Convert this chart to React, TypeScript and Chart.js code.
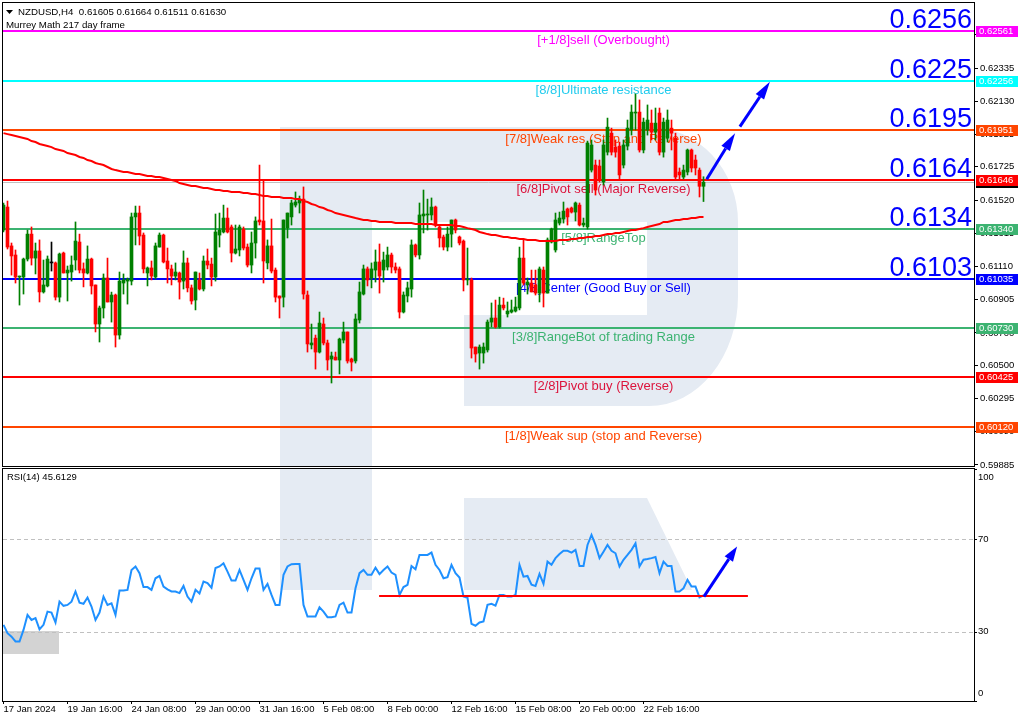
import React, { useEffect, useRef } from 'react';
import { Chart, registerables } from 'chart.js';

Chart.register(...registerables);

const FONT = '"Liberation Sans", Arial, sans-serif';

const symbolHeader = 'NZDUSD,H4  0.61605 0.61664 0.61511 0.61630';
const indicatorHeader = 'Murrey Math 217 day frame';
const rsiHeader = 'RSI(14) 45.6129';

const timeLabels = ['17 Jan 2024', '19 Jan 16:00', '24 Jan 08:00', '29 Jan 00:00', '31 Jan 16:00', '5 Feb 08:00', '8 Feb 00:00', '12 Feb 16:00', '15 Feb 08:00', '20 Feb 00:00', '22 Feb 16:00'];
const timeLabelBars = [0, 16, 32, 48, 64, 80, 96, 112, 128, 144, 160];

const priceTicks = [0.59885, 0.6009, 0.60295, 0.605, 0.607, 0.60905, 0.6111, 0.61315, 0.6152, 0.61725, 0.61925, 0.6213, 0.62335, 0.6254];
const rsiTickValues = [100, 70, 30, 0];
const rsiLevels = [70, 30];

const openP = [
  0.61335, 0.61477, 0.61237, 0.61181, 0.61045, 0.61045, 0.61156, 0.61310, 0.61162, 0.61206,
  0.60953, 0.60990, 0.61132, 0.61132, 0.60921, 0.61193, 0.61070, 0.61076, 0.61150, 0.61261,
  0.61095, 0.61070, 0.61156, 0.60996, 0.60755, 0.60854, 0.61039, 0.60891, 0.60934, 0.60687,
  0.61008, 0.61020, 0.61020, 0.61416, 0.61440, 0.61304, 0.61070, 0.61101, 0.61045, 0.61230,
  0.61304, 0.61144, 0.61095, 0.61051, 0.61070, 0.61020, 0.61132, 0.60978, 0.60903, 0.61027,
  0.60971, 0.61144, 0.61125, 0.61045, 0.61304, 0.61323, 0.61409, 0.61354, 0.61193, 0.61212,
  0.61341, 0.61230, 0.61119, 0.61255, 0.61397, 0.61391, 0.61132, 0.61237, 0.61088, 0.60928,
  0.60921, 0.61348, 0.61416, 0.61489, 0.61502, 0.61526, 0.60934, 0.60626, 0.60668, 0.60582,
  0.60755, 0.60638, 0.60539, 0.60551, 0.60533, 0.60656, 0.60706, 0.60539, 0.60527, 0.60780,
  0.60940, 0.61095, 0.61039, 0.61088, 0.61138, 0.61088, 0.61107, 0.61181, 0.61107, 0.61095,
  0.60829, 0.60928, 0.60971, 0.61243, 0.61181, 0.61422, 0.61428, 0.61428, 0.61477, 0.61354,
  0.61292, 0.61230, 0.61310, 0.61397, 0.61292, 0.61267, 0.61027, 0.61027, 0.60613, 0.60576,
  0.60576, 0.60595, 0.60767, 0.60792, 0.60737, 0.60872, 0.60817, 0.60829, 0.60835, 0.60854,
  0.61162, 0.60996, 0.61008, 0.60996, 0.60946, 0.61088, 0.60946, 0.61261, 0.61212, 0.61378,
  0.61403, 0.61465, 0.61471, 0.61446, 0.61489, 0.61366, 0.61354, 0.61705, 0.61736, 0.61730,
  0.61631, 0.61816, 0.61933, 0.61847, 0.61853, 0.61736, 0.61853, 0.61952, 0.62057, 0.62063,
  0.61829, 0.61952, 0.61995, 0.61939, 0.62057, 0.61816, 0.61902, 0.61964, 0.61902, 0.61693,
  0.61662, 0.61693, 0.61829, 0.61767, 0.61705, 0.61605,
];
const highP = [
  0.61502, 0.61514, 0.61255, 0.61212, 0.61051, 0.61162, 0.61335, 0.61354, 0.61255, 0.61274,
  0.61150, 0.61175, 0.61261, 0.61138, 0.61193, 0.61199, 0.61113, 0.61175, 0.61385, 0.61310,
  0.61132, 0.61237, 0.61162, 0.60996, 0.60866, 0.61064, 0.61162, 0.60952, 0.60940, 0.61076,
  0.61064, 0.61039, 0.61440, 0.61483, 0.61483, 0.61317, 0.61107, 0.61144, 0.61255, 0.61317,
  0.61310, 0.61224, 0.61119, 0.61132, 0.61076, 0.61206, 0.61162, 0.60996, 0.61076, 0.61070,
  0.61175, 0.61218, 0.61162, 0.61434, 0.61440, 0.61489, 0.61471, 0.61366, 0.61366, 0.61366,
  0.61354, 0.61249, 0.61323, 0.61416, 0.61736, 0.61644, 0.61274, 0.61403, 0.61101, 0.60928,
  0.61397, 0.61440, 0.61520, 0.61570, 0.61545, 0.61601, 0.60959, 0.60755, 0.60687, 0.60829,
  0.60792, 0.60656, 0.60582, 0.60582, 0.60668, 0.60767, 0.60706, 0.60545, 0.60817, 0.61014,
  0.61119, 0.61107, 0.61132, 0.61212, 0.61249, 0.61199, 0.61230, 0.61193, 0.61132, 0.61107,
  0.60953, 0.61014, 0.61274, 0.61249, 0.61502, 0.61582, 0.61526, 0.61533, 0.61483, 0.61366,
  0.61304, 0.61354, 0.61397, 0.61403, 0.61298, 0.61274, 0.61224, 0.61039, 0.60613, 0.60626,
  0.60638, 0.60780, 0.60885, 0.60903, 0.60921, 0.60915, 0.60891, 0.60903, 0.60921, 0.61230,
  0.61274, 0.61039, 0.61088, 0.61088, 0.61107, 0.61107, 0.61286, 0.61347, 0.61440, 0.61446,
  0.61508, 0.61471, 0.61477, 0.61508, 0.61502, 0.61409, 0.61884, 0.61891, 0.61767, 0.61767,
  0.61891, 0.62026, 0.61964, 0.61891, 0.61878, 0.61891, 0.62014, 0.62107, 0.62175, 0.62138,
  0.62026, 0.62107, 0.62076, 0.62088, 0.62088, 0.62026, 0.62076, 0.62014, 0.61933, 0.61718,
  0.61736, 0.61835, 0.61835, 0.61798, 0.61718, 0.61664,
];
const lowP = [
  0.61323, 0.61218, 0.61057, 0.61008, 0.60872, 0.60940, 0.61144, 0.61119, 0.61064, 0.60891,
  0.60946, 0.60984, 0.61082, 0.60903, 0.60891, 0.61070, 0.60897, 0.61020, 0.61088, 0.61070,
  0.60984, 0.61064, 0.60940, 0.60706, 0.60644, 0.60792, 0.60891, 0.60767, 0.60613, 0.60662,
  0.60940, 0.60878, 0.60996, 0.61243, 0.61243, 0.61070, 0.60990, 0.61027, 0.61033, 0.61230,
  0.61132, 0.61008, 0.60996, 0.61027, 0.60909, 0.60971, 0.60953, 0.60878, 0.60842, 0.60965,
  0.60959, 0.61095, 0.60990, 0.61020, 0.61230, 0.61317, 0.61317, 0.61138, 0.61187, 0.61175,
  0.61212, 0.61107, 0.61070, 0.61162, 0.61366, 0.61008, 0.61095, 0.61070, 0.60891, 0.60792,
  0.60860, 0.61286, 0.61366, 0.61477, 0.61440, 0.60909, 0.60582, 0.60601, 0.60477, 0.60576,
  0.60626, 0.60471, 0.60391, 0.60533, 0.60447, 0.60638, 0.60514, 0.60465, 0.60514, 0.60761,
  0.60934, 0.60990, 0.60978, 0.61014, 0.60946, 0.61014, 0.61088, 0.61070, 0.61070, 0.60792,
  0.60823, 0.60891, 0.60921, 0.61169, 0.61156, 0.61317, 0.61335, 0.61397, 0.61354, 0.61230,
  0.61212, 0.61206, 0.61230, 0.61317, 0.61243, 0.60959, 0.60996, 0.60545, 0.60520, 0.60477,
  0.60514, 0.60582, 0.60737, 0.60730, 0.60730, 0.60842, 0.60798, 0.60823, 0.60829, 0.60842,
  0.60996, 0.60940, 0.60953, 0.60934, 0.60891, 0.60860, 0.60946, 0.61255, 0.61199, 0.61366,
  0.61378, 0.61366, 0.61440, 0.61391, 0.61360, 0.61354, 0.61341, 0.61693, 0.61551, 0.61631,
  0.61613, 0.61798, 0.61798, 0.61785, 0.61644, 0.61718, 0.61829, 0.61921, 0.61952, 0.61816,
  0.61811, 0.61921, 0.61891, 0.61891, 0.61798, 0.61785, 0.61878, 0.61829, 0.61644, 0.61644,
  0.61650, 0.61675, 0.61693, 0.61675, 0.61539, 0.61511,
];
const closeP = [
  0.61489, 0.61230, 0.61175, 0.61045, 0.61051, 0.61156, 0.61310, 0.61162, 0.61206, 0.60953,
  0.60996, 0.61156, 0.61132, 0.60921, 0.61187, 0.61070, 0.61088, 0.61119, 0.61267, 0.61088,
  0.61070, 0.61156, 0.60990, 0.60755, 0.60854, 0.61039, 0.60891, 0.60934, 0.60687, 0.61020,
  0.61027, 0.61033, 0.61416, 0.61440, 0.61298, 0.61095, 0.61101, 0.61051, 0.61237, 0.61304,
  0.61138, 0.61095, 0.61051, 0.61076, 0.61014, 0.61132, 0.60978, 0.60897, 0.61076, 0.60971,
  0.61144, 0.61119, 0.61045, 0.61323, 0.61335, 0.61409, 0.61323, 0.61193, 0.61218, 0.61354,
  0.61224, 0.61119, 0.61255, 0.61391, 0.61385, 0.61144, 0.61237, 0.61082, 0.60921, 0.60915,
  0.61397, 0.61440, 0.61502, 0.61508, 0.61520, 0.60940, 0.60632, 0.60638, 0.60582, 0.60761,
  0.60638, 0.60533, 0.60558, 0.60533, 0.60662, 0.60706, 0.60527, 0.60520, 0.60786, 0.60953,
  0.61095, 0.61027, 0.61095, 0.61138, 0.61051, 0.61150, 0.61181, 0.61107, 0.61088, 0.60829,
  0.60934, 0.60978, 0.61243, 0.61181, 0.61428, 0.61434, 0.61434, 0.61477, 0.61366, 0.61286,
  0.61230, 0.61310, 0.61397, 0.61335, 0.61255, 0.61027, 0.61033, 0.60607, 0.60570, 0.60613,
  0.60613, 0.60767, 0.60792, 0.60737, 0.60872, 0.60854, 0.60835, 0.60842, 0.60860, 0.61162,
  0.61008, 0.61014, 0.60953, 0.60946, 0.61095, 0.60946, 0.61274, 0.61341, 0.61397, 0.61409,
  0.61452, 0.61416, 0.61446, 0.61502, 0.61366, 0.61378, 0.61872, 0.61860, 0.61582, 0.61644,
  0.61860, 0.61970, 0.61816, 0.61816, 0.61675, 0.61860, 0.61964, 0.62063, 0.62063, 0.61829,
  0.62001, 0.62014, 0.61939, 0.61995, 0.61816, 0.62001, 0.62014, 0.61933, 0.61662, 0.61675,
  0.61705, 0.61829, 0.61718, 0.61718, 0.61605, 0.61630,
];
const maValues = [
  0.61933, 0.61927, 0.61921, 0.61915, 0.61909, 0.61903, 0.61897, 0.61884, 0.61878, 0.61866,
  0.61860, 0.61854, 0.61847, 0.61835, 0.61829, 0.61823, 0.61810, 0.61804, 0.61798, 0.61786,
  0.61780, 0.61767, 0.61761, 0.61749, 0.61742, 0.61736, 0.61724, 0.61712, 0.61705, 0.61699,
  0.61693, 0.61693, 0.61687, 0.61681, 0.61681, 0.61675, 0.61668, 0.61668, 0.61662, 0.61662,
  0.61656, 0.61650, 0.61644, 0.61638, 0.61625, 0.61619, 0.61613, 0.61607, 0.61607, 0.61601,
  0.61594, 0.61594, 0.61588, 0.61582, 0.61582, 0.61576, 0.61576, 0.61570, 0.61570, 0.61570,
  0.61564, 0.61564, 0.61557, 0.61557, 0.61551, 0.61545, 0.61545, 0.61539, 0.61539, 0.61539,
  0.61533, 0.61533, 0.61533, 0.61526, 0.61526, 0.61514, 0.61508, 0.61496, 0.61489, 0.61477,
  0.61471, 0.61459, 0.61452, 0.61440, 0.61434, 0.61428, 0.61422, 0.61416, 0.61409, 0.61403,
  0.61397, 0.61397, 0.61391, 0.61391, 0.61385, 0.61385, 0.61385, 0.61385, 0.61378, 0.61378,
  0.61378, 0.61378, 0.61378, 0.61372, 0.61372, 0.61372, 0.61372, 0.61372, 0.61366, 0.61366,
  0.61366, 0.61366, 0.61366, 0.61360, 0.61360, 0.61354, 0.61347, 0.61341, 0.61335, 0.61323,
  0.61317, 0.61310, 0.61304, 0.61304, 0.61298, 0.61292, 0.61292, 0.61286, 0.61286, 0.61280,
  0.61280, 0.61274, 0.61274, 0.61274, 0.61267, 0.61267, 0.61267, 0.61267, 0.61267, 0.61274,
  0.61274, 0.61274, 0.61280, 0.61280, 0.61286, 0.61286, 0.61292, 0.61292, 0.61298, 0.61298,
  0.61304, 0.61310, 0.61310, 0.61317, 0.61317, 0.61323, 0.61329, 0.61335, 0.61335, 0.61341,
  0.61347, 0.61354, 0.61360, 0.61366, 0.61372, 0.61385, 0.61385, 0.61391, 0.61397, 0.61397,
  0.61403, 0.61403, 0.61409, 0.61409, 0.61416, 0.61416,
];
const rsiValues = [
  32.9, 29.3, 27.8, 25.7, 25.7, 30.7, 37.2, 35.0, 35.8, 31.0,
  32.9, 38.6, 38.2, 33.9, 42.9, 41.1, 41.5, 42.9, 47.3, 42.5,
  42.0, 44.7, 40.8, 35.0, 38.2, 45.1, 41.5, 42.2, 37.2, 47.7,
  47.7, 48.0, 56.6, 58.1, 55.2, 49.2, 49.2, 48.0, 53.0, 54.0,
  49.4, 48.2, 47.3, 47.3, 46.6, 49.7, 45.1, 42.9, 48.0, 46.4,
  51.6, 50.9, 48.9, 57.4, 58.1, 59.5, 55.9, 52.0, 52.0, 56.6,
  52.3, 48.0, 53.0, 57.2, 57.2, 48.0, 50.6, 45.8, 41.5, 41.5,
  54.5, 58.1, 59.1, 59.2, 59.2, 41.5, 36.5, 36.5, 36.5, 40.5,
  38.6, 36.2, 36.2, 36.5, 41.5, 42.5, 38.2, 38.2, 48.7, 55.2,
  56.6, 54.5, 54.5, 57.6, 54.8, 56.6, 58.1, 55.5, 54.5, 45.8,
  49.2, 50.2, 58.3, 56.9, 63.1, 63.1, 63.1, 64.1, 58.8, 56.6,
  53.0, 53.5, 58.8, 55.2, 53.3, 45.1, 44.6, 33.3, 32.5, 33.9,
  34.4, 41.5, 42.0, 41.2, 45.8, 45.8, 45.1, 45.1, 45.8, 58.8,
  53.7, 54.0, 50.2, 49.7, 54.9, 50.6, 60.2, 58.8, 61.7, 63.5,
  64.9, 64.9, 64.1, 65.3, 58.3, 58.3, 67.4, 71.7, 67.4, 61.7,
  64.5, 67.4, 64.9, 63.8, 58.1, 61.0, 63.1, 65.3, 68.1, 58.1,
  61.0, 61.3, 61.7, 62.2, 55.2, 60.2, 58.3, 58.3, 47.3, 47.3,
  48.7, 52.3, 49.4, 49.4, 44.8, 45.61,
];

const levelPrices = [0.62561, 0.62256, 0.61951, 0.61646, 0.6134, 0.61035, 0.6073, 0.60425, 0.6012];
const levelTags = ['[+1/8]sell (Overbought)', '[8/8]Ultimate resistance', '[7/8]Weak res (Stop and Reverse)', '[6/8]Pivot sell (Major Reverse)', '[5/8]RangeTop', '[4/8]Center (Good Buy or Sell)', '[3/8]RangeBot of trading Range', '[2/8]Pivot buy (Reverse)', '[1/8]Weak sup (stop and Reverse)'];
const levelBigLabels = ['0.6256', '0.6225', '0.6195', '0.6164', '0.6134', '0.6103', '', '', ''];
const levelLineColors = ['#FF00FF', '#00FFFF', '#FF4500', '#FF0000', '#3CB371', '#0000FF', '#3CB371', '#FF0000', '#FF4500'];
const levelTextColors = ['#FF00FF', '#22CCEE', '#FF4500', '#DC143C', '#3CB371', '#0000FF', '#3CB371', '#DC143C', '#FF4500'];
const levelTagBar = 150;
const lastPrice = 0.6163;

const priceArrows = [
  { fromBar: 175.8, fromPrice: 0.61649, toBar: 182.9, toPrice: 0.61933 },
  { fromBar: 184.1, fromPrice: 0.61973, toBar: 191.6, toPrice: 0.6225 },
];
const rsiArrow = { fromBar: 175.1, fromValue: 45.1, toBar: 183.4, toValue: 66.7 };
const rsiSupport = { fromBar: 93.9, toBar: 186.1, value: 45.5 };

const X_MIN = -0.125;
const X_MAX = 242.625;
const PRICE_MIN = 0.598788;
const PRICE_MAX = 0.627362;
const RSI_MIN = 0;
const RSI_MAX = 100.2;

const WATERMARK = 'rgb(229,235,243)';
const BULL = '#008000';
const BEAR = '#FF0000';
const DOJI = '#000000';

function drawArrow(ctx: CanvasRenderingContext2D, x0: number, y0: number, x1: number, y1: number, color: string, width: number, headLen: number, headW: number) {
  const ang = Math.atan2(y1 - y0, x1 - x0);
  const bx = x1 - headLen * Math.cos(ang);
  const by = y1 - headLen * Math.sin(ang);
  ctx.save();
  ctx.strokeStyle = color;
  ctx.lineWidth = width;
  ctx.lineCap = 'butt';
  ctx.beginPath();
  ctx.moveTo(x0, y0);
  ctx.lineTo(bx, by);
  ctx.stroke();
  ctx.fillStyle = color;
  ctx.beginPath();
  ctx.moveTo(x1, y1);
  ctx.lineTo(bx + (headW / 2) * Math.sin(ang), by - (headW / 2) * Math.cos(ang));
  ctx.lineTo(bx - (headW / 2) * Math.sin(ang), by + (headW / 2) * Math.cos(ang));
  ctx.closePath();
  ctx.fill();
  ctx.restore();
}

const mainDecor = {
  id: 'mainDecor',
  beforeDatasetsDraw(chart: any) {
    const { ctx, chartArea: a, scales } = chart;
    const xs = scales.x;
    const ys = scales.y;
    ctx.save();
    ctx.beginPath();
    ctx.rect(a.left, a.top, a.right - a.left, a.bottom - a.top);
    ctx.clip();
    // watermark logo
    ctx.fillStyle = WATERMARK;
    ctx.fillRect(280, 127, 92, a.bottom - 127);
    ctx.beginPath();
    ctx.moveTo(372, 127);
    ctx.lineTo(649, 127);
    ctx.ellipse(649, 222, 89, 95, 0, -Math.PI / 2, 0);
    ctx.lineTo(738, 296);
    ctx.ellipse(649, 296, 89, 110, 0, 0, Math.PI / 2);
    ctx.lineTo(464, 406);
    ctx.lineTo(464, 315);
    ctx.lineTo(647, 315);
    ctx.lineTo(647, 222);
    ctx.lineTo(372, 222);
    ctx.closePath();
    ctx.fill();

    // bid line
    const by = Math.round(ys.getPixelForValue(lastPrice)) + 0.5;
    ctx.strokeStyle = '#C0C0C0';
    ctx.lineWidth = 1;
    ctx.beginPath();
    ctx.moveTo(a.left, by);
    ctx.lineTo(a.right, by);
    ctx.stroke();

    // levels
    const tagX = xs.getPixelForValue(levelTagBar);
    levelPrices.forEach((p, k) => {
      const py = Math.round(ys.getPixelForValue(p));
      ctx.fillStyle = levelLineColors[k];
      ctx.fillRect(a.left, py - 1, a.right - a.left, 2);
      ctx.font = `13px ${FONT}`;
      ctx.textAlign = 'center';
      ctx.textBaseline = 'middle';
      ctx.fillStyle = levelTextColors[k];
      ctx.fillText(levelTags[k], tagX, py + 9);
      if (levelBigLabels[k]) {
        ctx.font = `27px ${FONT}`;
        ctx.textAlign = 'right';
        ctx.textBaseline = 'alphabetic';
        ctx.fillStyle = '#0000FF';
        ctx.fillText(levelBigLabels[k], a.right - 2, py - 3);
      }
    });
    ctx.restore();
  },
  afterDatasetsDraw(chart: any) {
    const { ctx, scales } = chart;
    priceArrows.forEach((ar) => {
      drawArrow(ctx, scales.x.getPixelForValue(ar.fromBar), scales.y.getPixelForValue(ar.fromPrice), scales.x.getPixelForValue(ar.toBar), scales.y.getPixelForValue(ar.toPrice), '#0000FF', 3, 18, 10);
    });
  },
  afterDraw(chart: any) {
    const { ctx, chartArea: a, scales } = chart;
    const ys = scales.y;
    ctx.save();
    ctx.strokeStyle = '#000';
    ctx.lineWidth = 1;
    ctx.strokeRect(a.left - 0.5, a.top - 0.5, a.right - a.left + 1, a.bottom - a.top + 1);

    ctx.font = `9.5px ${FONT}`;
    ctx.textAlign = 'left';
    ctx.textBaseline = 'middle';
    // current price tag
    const lp = ys.getPixelForValue(lastPrice);
    ctx.fillStyle = '#000';
    ctx.fillRect(a.right + 2, Math.round(lp) - 5, 42, 11);
    ctx.fillStyle = '#FFF';
    ctx.fillText(lastPrice.toFixed(5), a.right + 5, Math.round(lp) + 0.5);
    levelPrices.forEach((p, k) => {
      const py = Math.round(ys.getPixelForValue(p));
      ctx.fillStyle = levelLineColors[k];
      ctx.fillRect(a.right + 2, py - 5, 42, 11);
      ctx.fillStyle = '#FFF';
      ctx.fillText(p.toFixed(5), a.right + 5, py + 0.5);
    });

    // header
    ctx.fillStyle = '#000';
    ctx.beginPath();
    ctx.moveTo(6, 10);
    ctx.lineTo(13, 10);
    ctx.lineTo(9.5, 14);
    ctx.closePath();
    ctx.fill();
    ctx.font = `9.7px ${FONT}`;
    ctx.fillText(symbolHeader, 18, 12.5);
    ctx.fillText(indicatorHeader, 6, 25);
    ctx.restore();
  },
};

const RSI_TOP = 467;

const rsiDecor = {
  id: 'rsiDecor',
  beforeDatasetsDraw(chart: any) {
    const { ctx, chartArea: a, scales } = chart;
    const ys = scales.y;
    ctx.save();
    ctx.beginPath();
    ctx.rect(a.left, a.top, a.right - a.left, a.bottom - a.top);
    ctx.clip();
    ctx.fillStyle = WATERMARK;
    ctx.fillRect(280, a.top, 92, 590 - RSI_TOP - a.top);
    ctx.beginPath();
    ctx.moveTo(464, 498 - RSI_TOP);
    ctx.lineTo(647, 498 - RSI_TOP);
    ctx.lineTo(692, 590 - RSI_TOP);
    ctx.lineTo(464, 590 - RSI_TOP);
    ctx.closePath();
    ctx.fill();
    ctx.fillStyle = '#D3D3D3';
    ctx.fillRect(a.left, 631 - RSI_TOP, 56, 23);

    ctx.strokeStyle = '#C0C0C0';
    ctx.lineWidth = 1;
    ctx.setLineDash([4, 3]);
    rsiLevels.forEach((v) => {
      const py = Math.round(ys.getPixelForValue(v)) + 0.5;
      ctx.beginPath();
      ctx.moveTo(a.left, py);
      ctx.lineTo(a.right, py);
      ctx.stroke();
    });
    ctx.restore();
  },
  afterDatasetsDraw(chart: any) {
    const { ctx, scales } = chart;
    const xs = scales.x;
    const ys = scales.y;
    ctx.save();
    const sy = Math.round(ys.getPixelForValue(rsiSupport.value));
    ctx.fillStyle = '#FF0000';
    ctx.fillRect(xs.getPixelForValue(rsiSupport.fromBar), sy - 1, xs.getPixelForValue(rsiSupport.toBar) - xs.getPixelForValue(rsiSupport.fromBar), 2);
    ctx.restore();
    drawArrow(ctx, xs.getPixelForValue(rsiArrow.fromBar), ys.getPixelForValue(rsiArrow.fromValue), xs.getPixelForValue(rsiArrow.toBar), ys.getPixelForValue(rsiArrow.toValue), '#0000FF', 3, 15, 10);
  },
  afterDraw(chart: any) {
    const { ctx, chartArea: a, scales } = chart;
    const ys = scales.y;
    ctx.save();
    ctx.strokeStyle = '#000';
    ctx.lineWidth = 1;
    ctx.strokeRect(a.left - 0.5, a.top - 0.5, a.right - a.left + 1, a.bottom - a.top + 1);
    ctx.font = `9.5px ${FONT}`;
    ctx.fillStyle = '#000';
    ctx.textAlign = 'left';
    ctx.textBaseline = 'middle';
    ctx.fillText(rsiHeader, 7, a.top + 8.5);
    rsiTickValues.forEach((v) => {
      let py = ys.getPixelForValue(v);
      const tickY = Math.round(py) + 0.5;
      ctx.beginPath();
      ctx.moveTo(a.right, tickY);
      ctx.lineTo(a.right + 3, tickY);
      ctx.stroke();
      if (v === 100) py += 7.5;
      if (v === 0) py -= 8;
      ctx.fillText(String(v), a.right + 4, py);
    });
    ctx.restore();
  },
};

export default function App() {
  const mainRef = useRef<HTMLCanvasElement>(null);
  const rsiRef = useRef<HTMLCanvasElement>(null);

  useEffect(() => {
    const idx = openP.map((_, i) => i);
    const candleColors = idx.map((i) => (closeP[i] > openP[i] ? BULL : closeP[i] < openP[i] ? BEAR : DOJI));

    const mainChart = new Chart(mainRef.current as HTMLCanvasElement, {
      type: 'bar',
      data: {
        datasets: [
          {
            type: 'line',
            label: 'MA',
            data: idx.map((i) => ({ x: i, y: maValues[i] })),
            borderColor: '#FF0000',
            borderWidth: 2,
            pointRadius: 0,
            tension: 0,
            fill: false,
          } as any,
          {
            type: 'bar',
            label: 'bodies',
            data: idx.map((i) => ({ x: i, y: [openP[i], closeP[i]] })),
            backgroundColor: candleColors,
            barThickness: 3,
            grouped: false,
            minBarLength: 1,
            borderWidth: 0,
            borderSkipped: false,
          } as any,
          {
            type: 'bar',
            label: 'wicks',
            data: idx.map((i) => ({ x: i, y: [lowP[i], highP[i]] })),
            backgroundColor: candleColors,
            barThickness: 1,
            grouped: false,
            minBarLength: 1,
            borderWidth: 0,
            borderSkipped: false,
          } as any,
        ],
      },
      options: {
        responsive: false,
        animation: false,
        devicePixelRatio: 1,
        events: [],
        layout: { padding: { left: 3, top: 3, right: 0, bottom: 2 } },
        plugins: { legend: { display: false }, tooltip: { enabled: false } },
        scales: {
          x: { type: 'linear', min: X_MIN, max: X_MAX, offset: false, display: false, grid: { offset: false } },
          y: {
            type: 'linear',
            position: 'right',
            min: PRICE_MIN,
            max: PRICE_MAX,
            bounds: 'data',
            beginAtZero: false,
            afterBuildTicks: (s: any) => {
              s.ticks = priceTicks.map((v) => ({ value: v }));
            },
            afterFit: (s: any) => {
              s.width = 46;
              s.paddingTop = 0;
              s.paddingBottom = 0;
            },
            ticks: {
              autoSkip: false,
              padding: 2,
              color: '#000',
              font: { family: FONT, size: 9.5 },
              callback: (v: any) => Number(v).toFixed(5),
            },
            grid: { drawOnChartArea: false, drawTicks: true, tickLength: 4, color: '#000' },
            border: { display: false },
          },
        },
      } as any,
      plugins: [mainDecor],
    });

    const rsiChart = new Chart(rsiRef.current as HTMLCanvasElement, {
      type: 'line',
      data: {
        datasets: [
          {
            label: 'RSI',
            data: idx.map((i) => ({ x: i, y: rsiValues[i] })),
            borderColor: '#1E90FF',
            borderWidth: 2,
            pointRadius: 0,
            tension: 0,
            fill: false,
          },
        ],
      },
      options: {
        responsive: false,
        animation: false,
        devicePixelRatio: 1,
        events: [],
        layout: { padding: { left: 3, top: 2, right: 0, bottom: 0 } },
        plugins: { legend: { display: false }, tooltip: { enabled: false } },
        scales: {
          x: {
            type: 'linear',
            min: X_MIN,
            max: X_MAX,
            offset: false,
            bounds: 'data',
            afterBuildTicks: (s: any) => {
              s.ticks = timeLabelBars.map((v) => ({ value: v }));
            },
            afterFit: (s: any) => {
              s.height = 20;
              s.paddingLeft = 0;
              s.paddingRight = 0;
            },
            ticks: {
              autoSkip: false,
              maxRotation: 0,
              minRotation: 0,
              align: 'start',
              padding: 0,
              color: '#000',
              font: { family: FONT, size: 9.5 },
              callback: (_v: any, i: number) => timeLabels[i],
            },
            grid: { drawOnChartArea: false, drawTicks: true, tickLength: 3, color: '#000', offset: false },
            border: { display: false },
          },
          y: {
            type: 'linear',
            position: 'right',
            min: RSI_MIN,
            max: RSI_MAX,
            bounds: 'data',
            afterFit: (s: any) => {
              s.width = 46;
              s.paddingTop = 0;
              s.paddingBottom = 0;
            },
            ticks: { display: false },
            grid: { display: false },
            border: { display: false },
          },
        },
      } as any,
      plugins: [rsiDecor],
    });

    return () => {
      mainChart.destroy();
      rsiChart.destroy();
    };
  }, []);

  return (
    <div style={{ position: 'fixed', left: 0, top: 0, width: 1020, height: 721, background: '#FFFFFF', overflow: 'hidden' }}>
      <canvas ref={mainRef} width={1020} height={468} style={{ position: 'absolute', left: 0, top: 0, width: 1020, height: 468 }} />
      <canvas ref={rsiRef} width={1020} height={254} style={{ position: 'absolute', left: 0, top: RSI_TOP, width: 1020, height: 254 }} />
    </div>
  );
}
